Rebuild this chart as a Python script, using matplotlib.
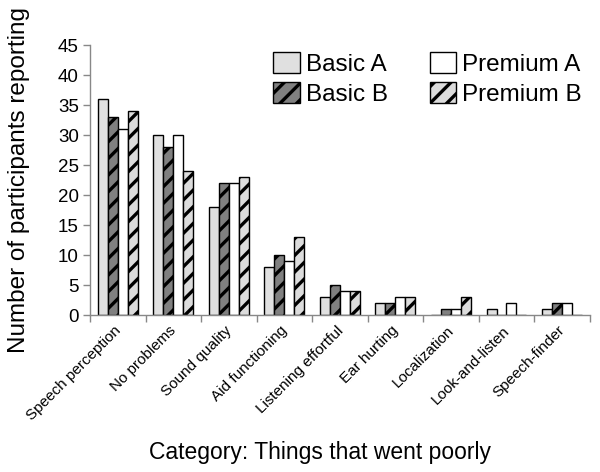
import matplotlib
matplotlib.use("Agg")
import matplotlib.pyplot as plt
import matplotlib.transforms as mtransforms
import numpy as np

categories = ["Speech perception", "No problems", "Sound quality", "Aid functioning",
              "Listening effortful", "Ear hurting", "Localization", "Look-and-listen",
              "Speech-finder"]
basic_a = [36, 30, 18, 8, 3, 2, 0, 1, 1]
basic_b = [33, 28, 22, 10, 5, 2, 1, 0, 2]
premium_a = [31, 30, 22, 9, 4, 3, 1, 2, 2]
premium_b = [34, 24, 23, 13, 4, 3, 3, 0, 0]
series_names = ["Basic A", "Basic B", "Premium A", "Premium B"]
yticks = list(range(0, 50, 5))

plt.rcParams['font.family'] = ['Liberation Sans', 'DejaVu Sans']
plt.rcParams['hatch.linewidth'] = 2.4
plt.rcParams['hatch.color'] = 'black'

fig = plt.figure(figsize=(6, 4.72), dpi=100)
ax = fig.add_axes([0.15, 0.3326, 0.833, 0.572])

x = np.arange(len(categories))
w = 0.18
styles = [
    dict(facecolor='#e0e0e0', hatch=None),
    dict(facecolor='#808080', hatch='//'),
    dict(facecolor='white', hatch=None),
    dict(facecolor='#dcdcdc', hatch='//'),
]
data = [basic_a, basic_b, premium_a, premium_b]
for i, (vals, st, name) in enumerate(zip(data, styles, series_names)):
    ax.bar(x + (i - 1.5) * w, vals, w, facecolor=st['facecolor'], hatch=st['hatch'],
           edgecolor='black', linewidth=1.0, label=name)

ax.set_xlim(-0.5, len(categories) - 0.5)
ax.set_ylim(0, 45)
ax.set_yticks(yticks)
ax.tick_params(axis='y', labelsize=13.5, length=5, color='#888888', width=1, pad=3)
ax.set_xticks(x)
ax.set_xticklabels(categories, rotation=45, ha='right', rotation_mode='anchor', fontsize=11)
ax.tick_params(axis='x', which='major', length=0, pad=6)
offset = mtransforms.ScaledTranslation(-4 / 100, 0, fig.dpi_scale_trans)
for lab in ax.get_xticklabels():
    lab.set_transform(lab.get_transform() + offset)
ax.set_xticks(np.arange(len(categories) + 1) - 0.5, minor=True)
ax.tick_params(axis='x', which='minor', length=5, color='#888888', width=1)

for s in ['top', 'right']:
    ax.spines[s].set_visible(False)
for s in ['left', 'bottom']:
    ax.spines[s].set_color('#888888')
    ax.spines[s].set_linewidth(1)

ax.set_ylabel("Number of participants reporting", fontsize=17.5)
ax.yaxis.set_label_coords(-0.12, 0.5)
ax.set_xlabel("Category: Things that went poorly", fontsize=16.5)
ax.xaxis.set_label_coords(0.46, -0.465)

ax.legend(ncol=2, frameon=False, fontsize=17.5, loc='upper right',
          bbox_to_anchor=(582 / 600, 1 - 52 / 472), bbox_transform=fig.transFigure,
          borderpad=0, borderaxespad=0, handlelength=1.1, handleheight=0.95,
          handletextpad=0.25, columnspacing=1.7, labelspacing=0.25)

fig.savefig("out.png", dpi=100)
